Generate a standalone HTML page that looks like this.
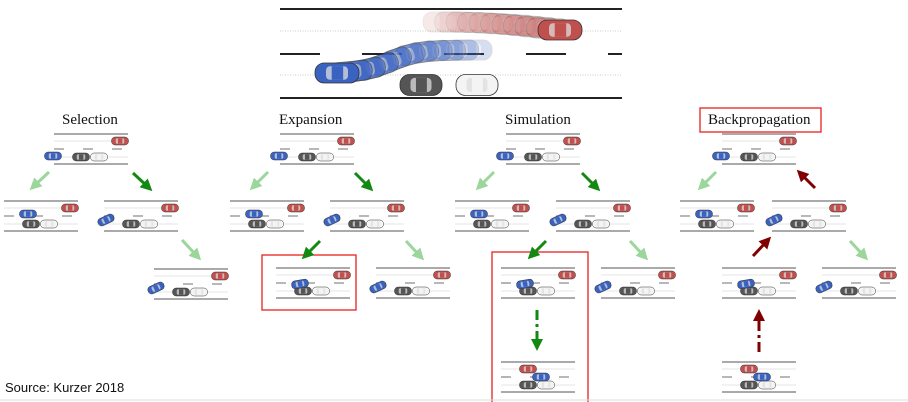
<!DOCTYPE html>
<html><head><meta charset="utf-8"><style>
html,body{margin:0;padding:0;background:#fff;width:908px;height:402px;overflow:hidden}
svg{display:block}
.t{font-family:"Liberation Serif",serif;font-size:15px;fill:#111}
.s{font-family:"Liberation Sans",sans-serif;font-size:13px;fill:#111}
</style></head><body>
<svg id="g" width="908" height="402" viewBox="0 0 908 402" xmlns="http://www.w3.org/2000/svg">
<defs>
<marker id="lg" markerWidth="4" markerHeight="4" refX="2" refY="2" orient="auto" markerUnits="strokeWidth"><path d="M0,0 L4,2 L0,4z" fill="#9bd69b"/></marker>
<marker id="dg" markerWidth="4" markerHeight="4" refX="2" refY="2" orient="auto" markerUnits="strokeWidth"><path d="M0,0 L4,2 L0,4z" fill="#128a12"/></marker>
<marker id="dr" markerWidth="4" markerHeight="4" refX="2" refY="2" orient="auto" markerUnits="strokeWidth"><path d="M0,0 L4,2 L0,4z" fill="#800000"/></marker>
</defs>
<text class="t" x="62" y="124">Selection</text>
<text class="t" x="279" y="124">Expansion</text>
<text class="t" x="505" y="124">Simulation</text>
<text class="t" x="708" y="124">Backpropagation</text>
<rect x="700" y="108" width="121" height="24" fill="none" stroke="#e82020" stroke-width="1.3"/>
<rect x="262" y="255" width="94" height="55" fill="none" stroke="#e82020" stroke-width="1.3"/>
<rect x="492" y="252" width="96" height="152" fill="none" stroke="#e82020" stroke-width="1.3"/>
<text class="s" x="5" y="392">Source: Kurzer 2018</text>
<line x1="0" y1="400" x2="908" y2="400" stroke="#ddd"/>
<g id="c"></g>
</svg>
<script>
var C=document.getElementById('c'),h='';
var col={r:['#c0504d','#e8a0a0'],b:['#3a62c0','#9cb2e6'],d:['#555','#aaa'],w:['#f4f4f4','#ccc']};
function car(x,y,c,w,ht,rot,op){var k=col[c];op=op||1;
 var s='<g transform="translate('+x+','+y+') rotate('+(rot||0)+')" opacity="'+op+'">';
 s+='<rect x="'+(-w/2)+'" y="'+(-ht/2)+'" width="'+w+'" height="'+ht+'" rx="'+ht/2.2+'" fill="'+k[0]+'" stroke="#333" stroke-width="'+(w>30?0.8:0.5)+'"/>';
 s+='<rect x="'+(-w*0.25)+'" y="'+(-ht*0.34)+'" width="'+(w*0.5)+'" height="'+(ht*0.68)+'" rx="'+(ht*0.2)+'" fill="#ddd" opacity="0.75"/>';
 s+='<rect x="'+(-w*0.12)+'" y="'+(-ht*0.34)+'" width="'+(w*0.26)+'" height="'+(ht*0.68)+'" fill="'+k[0]+'"/>';
 return s+'</g>';}
function sc(x,y,v){var s='',W=74;
 s+='<line x1="'+x+'" y1="'+y+'" x2="'+(x+W)+'" y2="'+y+'" stroke="#555" stroke-width="1"/>';
 s+='<line x1="'+x+'" y1="'+(y+30)+'" x2="'+(x+W)+'" y2="'+(y+30)+'" stroke="#555" stroke-width="1"/>';
 s+='<line x1="'+x+'" y1="'+(y+7)+'" x2="'+(x+W)+'" y2="'+(y+7)+'" stroke="#ccc" stroke-width="0.6"/>';
 s+='<line x1="'+x+'" y1="'+(y+23)+'" x2="'+(x+W)+'" y2="'+(y+23)+'" stroke="#ccc" stroke-width="0.6"/>';
 s+='<line x1="'+x+'" y1="'+(y+15)+'" x2="'+(x+W)+'" y2="'+(y+15)+'" stroke="#444" stroke-width="0.8" stroke-dasharray="10,19"/>';
 var rx=x+66,ry=y+7;if(v=='leaf'){rx=x+27;ry=y+7;}
 s+=car(rx,ry,'r',17,8);
 s+=car(x+27,y+23,'d',17,8);s+=car(x+45,y+23,'w',17,8);
 if(v=='root')s+=car(x-1,y+22,'b',17,8);
 if(v=='up')s+=car(x+24,y+13,'b',17,8);
 if(v=='tilt')s+=car(x+2,y+19,'b',17,8,-25);
 if(v=='exp')s+=car(x+24,y+16,'b',17,8,-10);
 if(v=='leaf')s+=car(x+40,y+15,'b',17,8);
 return s;}
function ar(x1,y1,x2,y2,m,c,dash){h+='<line x1="'+x1+'" y1="'+y1+'" x2="'+x2+'" y2="'+y2+'" stroke="'+c+'" stroke-width="3" marker-end="url(#'+m+')"'+(dash?' stroke-dasharray="'+dash+'"':'')+'/>';}
var LG='#9bd69b',DG='#128a12',DR='#800000';
h+=sc(54,134,'root')+sc(4,201,'up')+sc(104,201,'tilt')+sc(154,269,'tilt');
ar(49,172,34,186,'lg',LG);ar(133,173,148,187,'dg',DG);ar(182,240,197,256,'lg',LG);
h+=sc(280,134,'root')+sc(230,201,'up')+sc(330,201,'tilt')+sc(276,268,'exp')+sc(376,268,'tilt');
ar(268,172,254,186,'lg',LG);ar(355,173,369,187,'dg',DG);ar(320,241,306,255,'dg',DG);ar(406,241,420,256,'lg',LG);
h+=sc(506,134,'root')+sc(455,201,'up')+sc(556,201,'tilt')+sc(501,268,'exp')+sc(601,268,'tilt');
h+=sc(501,362,'leaf');
ar(494,172,480,186,'lg',LG);ar(582,173,596,187,'dg',DG);ar(546,241,532,255,'dg',DG);ar(630,241,644,256,'lg',LG);
ar(537,310,537,345,'dg',DG,'10,4,3,4');
h+=sc(722,134,'root')+sc(680,201,'up')+sc(772,201,'tilt')+sc(722,268,'exp')+sc(822,268,'tilt');
h+=sc(722,362,'leaf');
ar(716,172,702,186,'lg',LG);ar(815,188,801,174,'dr',DR);ar(753,256,767,241,'dr',DR);ar(850,241,864,256,'lg',LG);
ar(759,352,759,315,'dr',DR,'10,4,3,4');
var t='';
t+='<line x1="280" y1="9" x2="622" y2="9" stroke="#222" stroke-width="2"/>';
t+='<line x1="280" y1="98" x2="622" y2="98" stroke="#222" stroke-width="2"/>';
t+='<line x1="280" y1="31" x2="622" y2="31" stroke="#bbb" stroke-width="0.7" stroke-dasharray="1,1.5"/>';
t+='<line x1="280" y1="75" x2="622" y2="75" stroke="#bbb" stroke-width="0.7" stroke-dasharray="1,1.5"/>';
t+='<line x1="280" y1="54" x2="622" y2="54" stroke="#222" stroke-width="2" stroke-dasharray="40,42"/>';
// red trail: from (445,22) to (560,30), fading leftwards
for(var i=0;i<10;i++){var f=i/10,px=445+f*115,py=22+8*f*f;t+=car(px,py,'r',44,20,f<0.5?4*f:2,0.12+f*0.25);}
t+=car(560,30,'r',44,20,0,1);
// blue trail: from (337,73) up to (470,50), fading rightwards
for(var j=10;j>=1;j--){var g=j/10,bx=337+g*133,s=1/(1+Math.exp(-(g-0.4)*9)),by=73-23*s;
 var d=23*9*s*(1-s)/133;t+=car(bx,by,'b',44,20,-Math.atan(d)*57,0.75-g*0.55);}
t+=car(337,73,'b',44,20,0,1);
t+=car(421,85,'d',42,21);t+=car(477,85,'w',42,21);
C.innerHTML=t+h;
</script>
</body></html>
